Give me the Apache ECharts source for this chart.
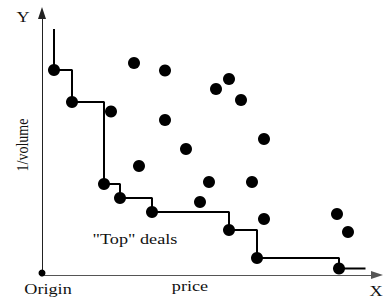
<!DOCTYPE html>
<html>
<head>
<meta charset="utf-8">
<script src="https://cdn.jsdelivr.net/npm/echarts@6/dist/echarts.min.js"></script>
<style>
  html, body { margin: 0; padding: 0; background: #fff; }
  #chart { width: 383px; height: 300px; }
</style>
</head>
<body>
<div id="chart"></div>
<script>
// units: price to the right of the origin, 1/volume up from it (no ticks on the original)
const frontierDeals = [[12, 205], [30, 173], [62, 91], [78, 77], [110, 63], [187, 45], [215, 17], [297, 6.5]]
const lineStart = [12, 246]
const lineEnd = [323.5, 6.5]
const otherDeals = [
  [92, 212], [123, 204.5], [69, 163.5], [123, 155], [144, 126], [97, 109],
  [187, 196], [174, 186], [199, 175], [222, 136], [158, 73], [167, 93],
  [210, 93], [222, 56], [295, 61], [306, 43]
]
const origin = [[0, 2]]

const serif = '"Liberation Serif", "DejaVu Serif", serif'
// the original's lettering is a little stretched sideways
const label = (text, x, y, extra) => Object.assign({
  type: 'text',
  x: x,
  y: y,
  scaleX: 1.3,
  silent: true,
  style: { text: text, font: '14px ' + serif, fill: '#111', align: 'center', verticalAlign: 'middle' }
}, extra || {})

const chart = echarts.init(document.getElementById('chart'), null, { renderer: 'svg' })

const axisCommon = {
  type: 'value',
  min: 0,
  splitLine: { show: false },
  axisTick: { show: false },
  axisLabel: { show: false },
  axisLine: {
    show: true,
    symbol: ['none', 'triangle'],
    symbolSize: [8, 12],
    lineStyle: { color: '#222', width: 1 }
  }
}

const dot = { color: '#000', opacity: 1 }

chart.setOption({
  animation: false,
  backgroundColor: '#fff',
  grid: { left: 42, right: 6, top: 13, bottom: 25 },
  xAxis: Object.assign({}, axisCommon, {
    max: 335,
    axisLine: Object.assign({}, axisCommon.axisLine, { lineStyle: { color: '#555', width: 1 } })
  }),
  yAxis: Object.assign({}, axisCommon, { max: 262 }),
  series: [
    {
      type: 'line',
      step: 'end',
      data: [lineStart].concat(frontierDeals, [lineEnd]),
      showSymbol: false,
      lineStyle: { color: '#000', width: 2 },
      z: 2
    },
    { type: 'scatter', data: frontierDeals, symbolSize: 12, itemStyle: dot, z: 3 },
    { type: 'scatter', data: otherDeals, symbolSize: 12, itemStyle: dot, z: 3 },
    { type: 'scatter', data: origin, symbolSize: 7, itemStyle: dot, z: 3 }
  ],
  graphic: [
    label('Y', 23, 18),
    label('X', 376, 292),
    label('Origin', 48, 290),
    label('price', 190, 287),
    label('"Top" deals', 135, 240),
    label('1/volume', 22, 145, { rotation: Math.PI / 2, scaleX: 1, scaleY: 1.2 })
  ]
})
</script>
</body>
</html>
